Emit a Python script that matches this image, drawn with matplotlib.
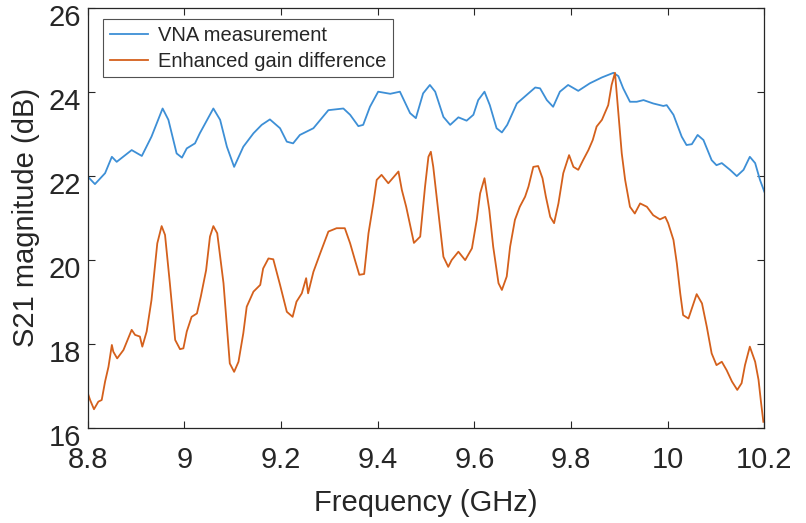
import matplotlib
matplotlib.use("Agg")
import matplotlib.pyplot as plt
from matplotlib.transforms import ScaledTranslation

plt.rcParams['font.family'] = ['Liberation Sans', 'DejaVu Sans']

vna_freq = [8.800, 8.815, 8.836, 8.850, 8.860, 8.891, 8.912, 8.932, 8.955, 8.967,
            8.984, 8.995, 9.005, 9.022, 9.032, 9.060, 9.074, 9.088, 9.103, 9.122,
            9.143, 9.160, 9.177, 9.198, 9.212, 9.225, 9.239, 9.267, 9.298, 9.329,
            9.343, 9.360, 9.370, 9.384, 9.401, 9.426, 9.446, 9.467, 9.479, 9.494,
            9.508, 9.519, 9.536, 9.550, 9.567, 9.584, 9.598, 9.608, 9.621, 9.632,
            9.646, 9.657, 9.668, 9.688, 9.708, 9.726, 9.736, 9.750, 9.763, 9.777,
            9.794, 9.815, 9.839, 9.864, 9.888, 9.898, 9.908, 9.922, 9.936, 9.950,
            9.970, 9.991, 9.998, 10.012, 10.029, 10.039, 10.050, 10.062, 10.074, 10.091,
            10.101, 10.112, 10.129, 10.143, 10.157, 10.170, 10.181, 10.191, 10.200]
vna_db = [21.98, 21.80, 22.06, 22.45, 22.33, 22.61, 22.47, 22.93, 23.60, 23.33,
          22.53, 22.43, 22.65, 22.77, 23.01, 23.60, 23.33, 22.69, 22.21, 22.69,
          23.01, 23.21, 23.34, 23.13, 22.81, 22.77, 22.97, 23.13, 23.56, 23.60,
          23.45, 23.18, 23.21, 23.64, 24.00, 23.95, 24.00, 23.49, 23.37, 23.96,
          24.16, 24.00, 23.40, 23.21, 23.39, 23.31, 23.45, 23.80, 24.00, 23.68,
          23.13, 23.03, 23.21, 23.72, 23.92, 24.10, 24.08, 23.80, 23.64, 24.00,
          24.16, 24.02, 24.20, 24.34, 24.45, 24.37, 24.08, 23.76, 23.76, 23.80,
          23.72, 23.66, 23.68, 23.45, 22.93, 22.73, 22.75, 22.97, 22.85, 22.37,
          22.25, 22.30, 22.14, 21.99, 22.14, 22.45, 22.30, 21.90, 21.62]

gain_freq = [8.800, 8.805, 8.813, 8.822, 8.829, 8.836, 8.843, 8.850, 8.853, 8.861,
             8.874, 8.891, 8.898, 8.908, 8.913, 8.922, 8.932, 8.944, 8.953, 8.960,
             8.970, 8.981, 8.991, 8.998, 9.005, 9.015, 9.026, 9.034, 9.045, 9.053,
             9.060, 9.068, 9.081, 9.094, 9.103, 9.112, 9.122, 9.129, 9.143, 9.157,
             9.163, 9.174, 9.184, 9.198, 9.206, 9.212, 9.224, 9.232, 9.243, 9.252,
             9.256, 9.267, 9.281, 9.298, 9.315, 9.332, 9.343, 9.353, 9.362, 9.372,
             9.381, 9.391, 9.398, 9.408, 9.422, 9.443, 9.450, 9.459, 9.475, 9.488,
             9.498, 9.505, 9.510, 9.515, 9.525, 9.536, 9.546, 9.553, 9.567, 9.581,
             9.595, 9.605, 9.612, 9.621, 9.631, 9.639, 9.650, 9.657, 9.667, 9.674,
             9.684, 9.694, 9.705, 9.712, 9.722, 9.732, 9.741, 9.748, 9.757, 9.765,
             9.774, 9.784, 9.796, 9.805, 9.815, 9.825, 9.836, 9.845, 9.853, 9.864,
             9.870, 9.877, 9.884, 9.891, 9.898, 9.905, 9.912, 9.922, 9.932, 9.943,
             9.957, 9.970, 9.984, 9.995, 10.001, 10.012, 10.019, 10.026, 10.032, 10.043,
             10.050, 10.060, 10.071, 10.081, 10.091, 10.101, 10.112, 10.122, 10.133, 10.144,
             10.153, 10.160, 10.170, 10.181, 10.188, 10.193, 10.198]
gain_db = [16.83, 16.66, 16.44, 16.62, 16.66, 17.10, 17.45, 17.97, 17.81, 17.65,
           17.85, 18.33, 18.21, 18.17, 17.93, 18.29, 19.04, 20.39, 20.80, 20.59,
           19.44, 18.09, 17.87, 17.89, 18.29, 18.64, 18.72, 19.12, 19.75, 20.55,
           20.80, 20.63, 19.44, 17.53, 17.33, 17.57, 18.25, 18.88, 19.24, 19.40,
           19.79, 20.03, 20.01, 19.40, 19.04, 18.76, 18.64, 19.00, 19.20, 19.56,
           19.20, 19.71, 20.15, 20.67, 20.75, 20.75, 20.39, 19.99, 19.64, 19.66,
           20.63, 21.34, 21.90, 22.02, 21.82, 22.10, 21.66, 21.26, 20.40, 20.55,
           21.74, 22.45, 22.57, 22.21, 21.18, 20.07, 19.83, 19.99, 20.19, 19.99,
           20.27, 20.95, 21.58, 21.94, 21.18, 20.31, 19.44, 19.28, 19.60, 20.31,
           20.95, 21.26, 21.50, 21.74, 22.21, 22.23, 21.94, 21.50, 21.02, 20.87,
           21.34, 22.06, 22.49, 22.21, 22.14, 22.37, 22.61, 22.85, 23.17, 23.33,
           23.49, 23.68, 24.16, 24.45, 23.49, 22.53, 21.90, 21.26, 21.10, 21.34,
           21.26, 21.06, 20.96, 21.02, 20.87, 20.47, 19.91, 19.20, 18.68, 18.60,
           18.84, 19.18, 18.96, 18.40, 17.77, 17.49, 17.57, 17.37, 17.10, 16.90,
           17.06, 17.49, 17.93, 17.57, 17.14, 16.62, 16.14]

series_labels = ['VNA measurement', 'Enhanced gain difference']
x_ticks = [8.8, 9, 9.2, 9.4, 9.6, 9.8, 10, 10.2]
x_tick_labels = ['8.8', '9', '9.2', '9.4', '9.6', '9.8', '10', '10.2']
y_ticks = [16, 18, 20, 22, 24, 26]

txt = '#262626'
fig = plt.figure(figsize=(8.06, 5.23), dpi=100)
ax = fig.add_axes([0.1088, 0.1822, 0.8395, 0.8031])
ax.plot(vna_freq, vna_db, color='#3d8fd6', lw=1.3, label=series_labels[0])
ax.plot(gain_freq, gain_db, color='#d4601c', lw=1.3, label=series_labels[1])
ax.set_xlim(8.8, 10.2)
ax.set_ylim(16, 26)
ax.set_xticks(x_ticks)
ax.set_xticklabels(x_tick_labels)
ax.set_yticks(y_ticks)
ax.tick_params(direction='in', length=5, width=0.8, top=True, right=True,
               labelsize=21, colors=txt)
ax.tick_params(axis='x', pad=13)
ax.tick_params(axis='y', pad=5)
shift = ScaledTranslation(0, -0.07, fig.dpi_scale_trans)
for lab in ax.get_yticklabels():
    lab.set_transform(lab.get_transform() + shift)
for s in ax.spines.values():
    s.set_color(txt)
    s.set_linewidth(0.9)
ax.set_xlabel('Frequency (GHz)', fontsize=21, color=txt, labelpad=11)
ax.set_ylabel('S21 magnitude (dB)', fontsize=21, color=txt, labelpad=6)
leg = ax.legend(loc='upper left', bbox_to_anchor=(0.023, 0.9724), borderaxespad=0,
                fontsize=14.5, frameon=True, fancybox=False, edgecolor=txt,
                handlelength=1.9, borderpad=0.33, labelspacing=0.33,
                handletextpad=0.5)
leg.get_frame().set_linewidth(0.8)
for t in leg.get_texts():
    t.set_color(txt)
fig.savefig('out.png', dpi=100)
